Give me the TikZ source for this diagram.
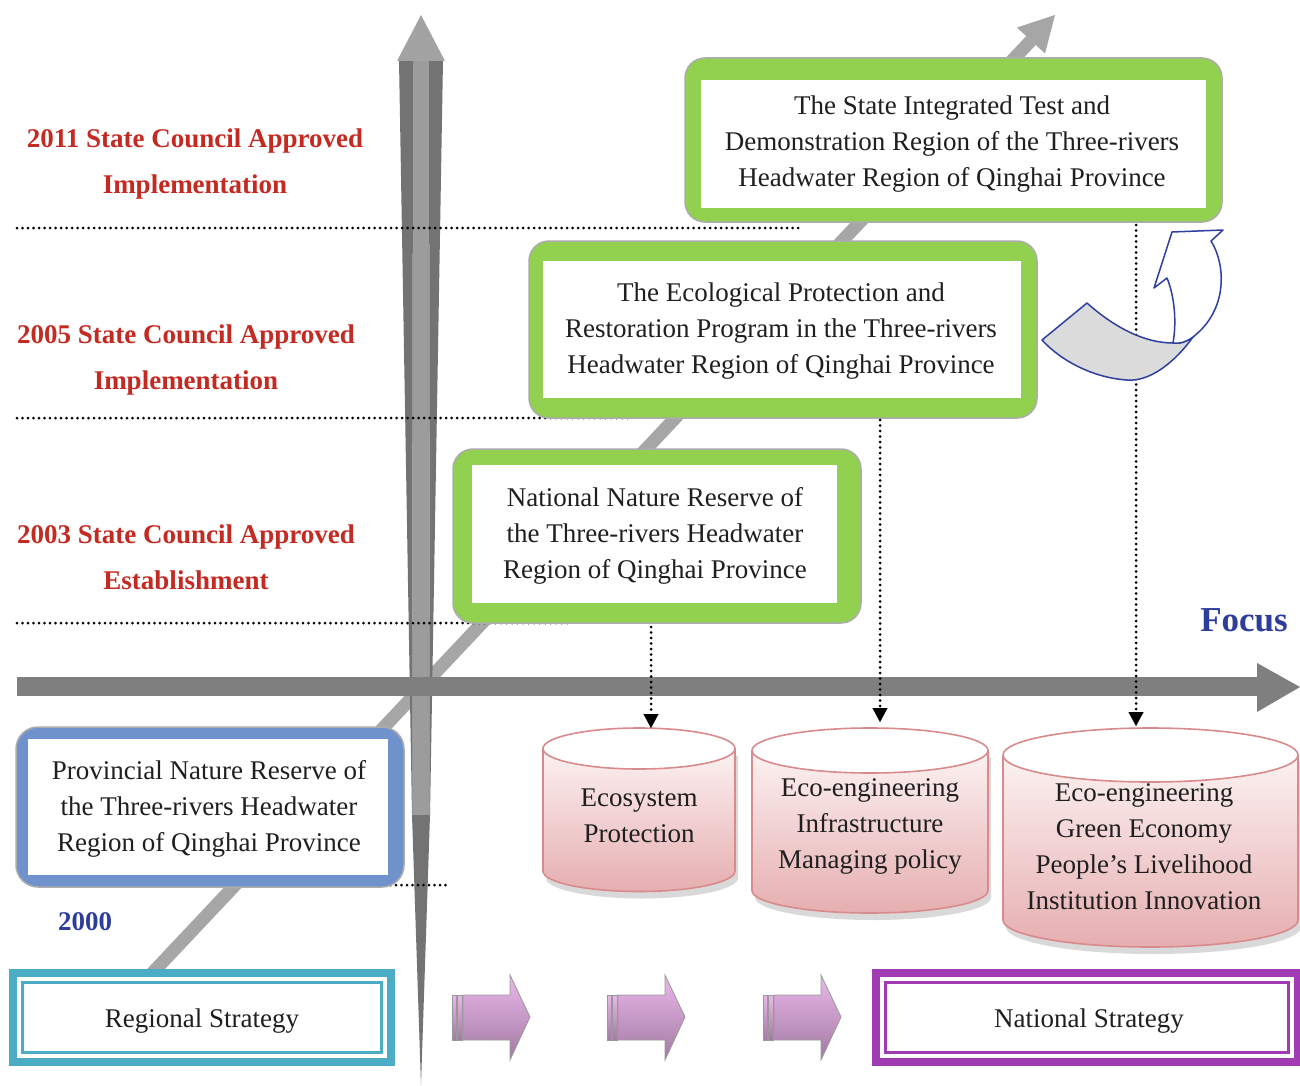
\documentclass[tikz,border=0pt]{standalone}
\usepackage{fontspec}
\setmainfont{Liberation Serif}
\usetikzlibrary{arrows.meta}
\definecolor{cGreen}{HTML}{92D050}
\definecolor{cBlueBox}{HTML}{7092CC}
\definecolor{cRed}{HTML}{C42A22}
\definecolor{cBlueTxt}{HTML}{2E3D9C}
\definecolor{cTeal}{HTML}{4BACC6}
\definecolor{cPurple}{HTML}{A03BB4}
\definecolor{cAxis}{HTML}{7F7F7F}
\definecolor{cDiag}{HTML}{A6A6A6}
\definecolor{cVDark}{HTML}{737373}
\definecolor{cVLight}{HTML}{9C9C9C}
\definecolor{cVHead}{HTML}{A3A3A3}
\definecolor{cCylBorder}{HTML}{D98A8C}
\definecolor{cCylTop}{HTML}{FCF2F2}
\definecolor{cCylBot}{HTML}{E6AEB0}
\definecolor{cPinkL}{HTML}{F6D8F6}
\definecolor{cPinkM}{HTML}{EAB8EA}
\definecolor{cPinkD}{HTML}{A27AA2}
\definecolor{cCurve}{HTML}{2E3FA0}

\newcommand\drawcyl[5]{%
  \fill[black!15] (#1-#4+3,#2+7) -- (#1-#4+3,#3+7) arc[start angle=180,end angle=0,x radius=#4,y radius=#5] -- (#1+#4+3,#2+7) -- cycle;
  \shade[top color=cCylTop,bottom color=cCylBot] (#1-#4,#2) -- (#1-#4,#3) arc[start angle=180,end angle=0,x radius=#4,y radius=#5] -- (#1+#4,#2) -- cycle;
  \draw[cCylBorder,line width=1.6pt] (#1-#4,#2) -- (#1-#4,#3) arc[start angle=180,end angle=0,x radius=#4,y radius=#5] -- (#1+#4,#2);
  \draw[cCylBorder,line width=1.6pt,fill=white] (#1,#2) ellipse [x radius=#4,y radius=#5];
}
\newcommand\pinkarrow[1]{%
  \begin{scope}[shift={(#1,0)}]
    \shadedraw[top color=cPinkM,middle color=cPinkL,bottom color=cPinkD,draw=gray!80,line width=0.8pt] (452,995) rectangle (456,1040);
    \shadedraw[top color=cPinkM,middle color=cPinkL,bottom color=cPinkD,draw=gray!80,line width=0.8pt] (457,995) rectangle (462,1040);
    \shadedraw[top color=cPinkM,middle color=cPinkL,bottom color=cPinkD,draw=gray!80,line width=0.8pt,line join=miter]
      (463,995) -- (510,995) -- (510,975) -- (530,1017) -- (510,1060) -- (510,1040) -- (463,1040) -- cycle;
  \end{scope}}

\begin{document}
\begin{tikzpicture}[x=1pt,y=-1pt,
  every node/.style={inner sep=0pt,outer sep=0pt},
  txt/.style={align=center,font=\fontsize{27}{36}\selectfont,text=black!88},
  redlabel/.style={align=center,font=\fontsize{27}{46}\selectfont\bfseries,text=cRed},
  greenframe/.style={draw=gray!65,line width=1.5pt,fill=cGreen,rounded corners=20pt},
  blueframe/.style={draw=gray!65,line width=1.5pt,fill=cBlueBox,rounded corners=22pt},
  dotline/.style={black,line width=3pt,line cap=round,dash pattern=on 0pt off 5.5pt},
  dotarrow/.style={dotline,-{Triangle[width=15pt,length=14pt,line width=0.1pt]}},
  stratbox/.style={line width=8pt,fill=white,font=\fontsize{27}{36}\selectfont,text=black!88}
]
\useasboundingbox (0,0) rectangle (1300,1086);
\fill[white] (0,0) rectangle (1300,1086);

% diagonal time arrow
\draw[cDiag,line width=13pt] (141,985) -- (1031,40.5);
\fill[cDiag] (1017,27.5) -- (1055,15) -- (1045,53.5) -- cycle;

% vertical axis
\fill[cVLight] (413,60) -- (429,60) -- (430,815) -- (412,815) -- cycle;
\fill[cVDark] (399,60) -- (413,60) -- (412,815) -- cycle;
\fill[cVDark] (429,60) -- (443,60) -- (430,815) -- cycle;
\fill[cVDark] (412,815) -- (430,815) -- (421,1085) -- cycle;
\fill[cVHead] (397,61) -- (421,15) -- (445,61) -- cycle;

% horizontal axis
\fill[cAxis] (17,677) rectangle (1258,696);
\fill[cAxis] (1257,663) -- (1300,687) -- (1257,712) -- cycle;

% dotted separators
\draw[dotline] (17,228) -- (800,228);
\draw[dotline] (17,418) -- (630,418);
\draw[dotline] (17,623) -- (570,623);
\draw[dotline] (363,885) -- (447,885);

% green boxes
\node[greenframe,minimum width=537pt,minimum height=164pt] (boxA) at (953.5,140) {};
\fill[white] (701,80) rectangle (1206,208);
\node[txt] (boxAt) at (952,144) {The State Integrated Test and\\Demonstration Region of the Three-rivers\\Headwater Region of Qinghai Province};

\node[greenframe,minimum width=508pt,minimum height=177pt] (boxB) at (783,329.5) {};
\fill[white] (543,261) rectangle (1021,398);
\node[txt] (boxBt) at (781,331) {The Ecological Protection and\\Restoration Program in the Three-rivers\\Headwater Region of Qinghai Province};

\node[greenframe,minimum width=408pt,minimum height=174pt] (boxC) at (657,536) {};
\fill[white] (472,465) rectangle (837,603);
\node[txt] (boxCt) at (655,536) {National Nature Reserve of\\the Three-rivers Headwater\\Region of Qinghai Province};

% blue box
\node[blueframe,minimum width=388pt,minimum height=160pt] (boxP) at (210,807) {};
\fill[white] (28,739) rectangle (388,875);
\node[txt] (boxPt) at (209,809) {Provincial Nature Reserve of\\the Three-rivers Headwater\\Region of Qinghai Province};

% red labels
\node[redlabel] (l2011) at (195,164) {2011 State Council Approved\\Implementation};
\node[redlabel] (l2005) at (186,360) {2005 State Council Approved\\Implementation};
\node[redlabel] (l2003) at (186,557) {2003 State Council Approved\\Establishment};
\node[font=\fontsize{27}{30}\selectfont\bfseries,text=cBlueTxt] (y2000) at (85,922) {2000};
\node[font=\fontsize{35}{40}\selectfont\bfseries,text=cBlueTxt] (focus) at (1244,620) {Focus};

% cylinders
\drawcyl{639}{748.5}{871}{96}{20.5}
\drawcyl{870}{750.5}{890.5}{118}{22.5}
\drawcyl{1150.5}{755}{920}{147.5}{27}
\node[txt] (cylE) at (639,816) {Ecosystem\\Protection};
\node[txt] (cylI) at (870,826) {Eco-engineering\\Infrastructure\\Managing policy};
\node[txt] (cylG) at (1144,847) {Eco-engineering\\Green Economy\\People’s Livelihood\\Institution Innovation};

% dotted arrows
\coordinate (c1top) at (651,728);
\coordinate (c2top) at (880,722);
\coordinate (c3top) at (1136,726);
\draw[dotarrow,shorten <=4pt] (boxC.south -| c1top) -- (c1top);
\draw[dotarrow,shorten <=2pt] (boxB.south -| c2top) -- (c2top);
\draw[dotarrow,shorten <=3pt] (boxA.south -| c3top) -- (c3top);

% curved U-turn arrow
\filldraw[fill=gray!28,draw=cCurve,line width=1.5pt,line join=round]
  (1042,340) -- (1087,303) .. controls (1115,328) and (1145,343) .. (1173,343)
  .. controls (1180,344) and (1186,342) .. (1193,337)
  .. controls (1175,362) and (1150,382) .. (1127,380)
  .. controls (1095,378) and (1062,362) .. (1042,340) -- cycle;
\filldraw[fill=white,draw=cCurve,line width=1.5pt,line join=round]
  (1173,343) .. controls (1177,320) and (1174,295) .. (1167,278) -- (1154,288) -- (1172,232) -- (1223,230) -- (1211,241)
  .. controls (1226,265) and (1228,310) .. (1193,337)
  .. controls (1186,342) and (1180,344) .. (1173,343) -- cycle;

% strategy boxes
\node[stratbox,draw=cTeal,minimum width=378pt,minimum height=89pt] (reg) at (202,1017.5) {};
\draw[cTeal,line width=3pt] ([shift={(9.5,9.5)}]reg.north west) rectangle ([shift={(-9.5,-9.5)}]reg.south east);
\node[txt] (regt) at (202,1021) {Regional Strategy};

\node[stratbox,draw=cPurple,minimum width=422pt,minimum height=89pt] (nat) at (1087,1017.5) {};
\draw[cPurple,line width=3pt] ([shift={(9.5,9.5)}]nat.north west) rectangle ([shift={(-9.5,-9.5)}]nat.south east);
\node[txt] (natt) at (1089,1021) {National Strategy};

% pink arrows
\pinkarrow{0}
\pinkarrow{155}
\pinkarrow{311}
\end{tikzpicture}
\end{document}
